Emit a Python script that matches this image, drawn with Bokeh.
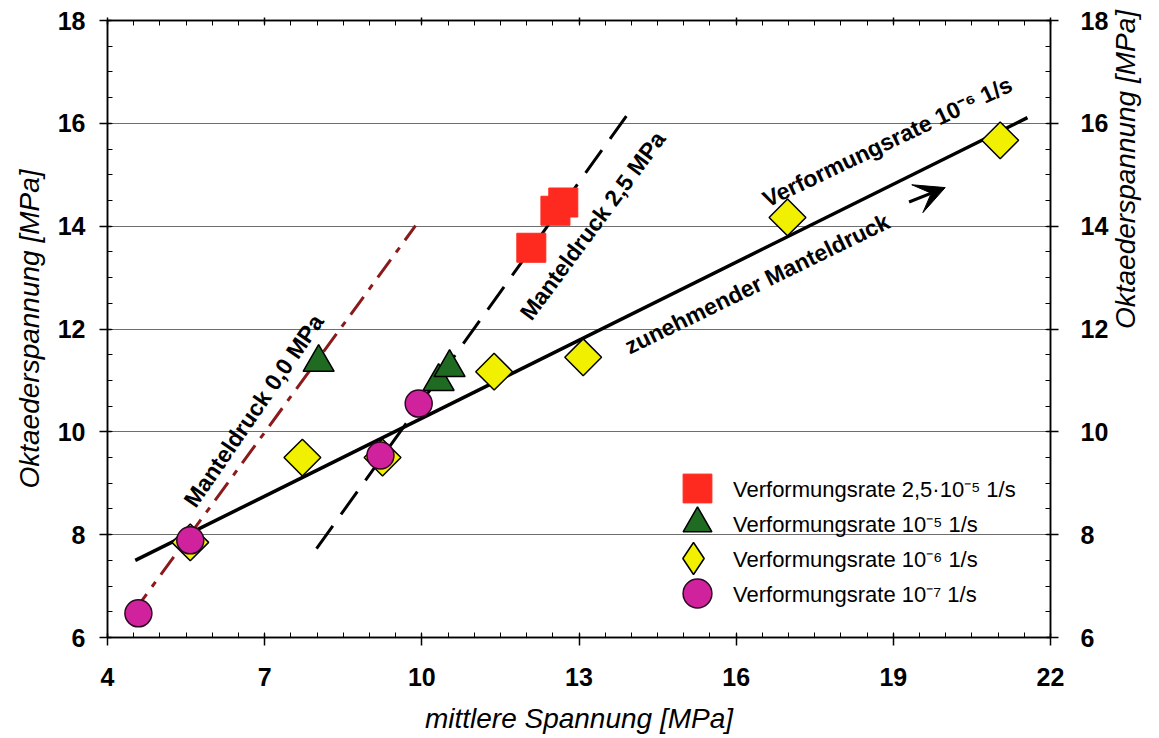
import math
import numpy as np
from bokeh.plotting import figure
from bokeh.models import (LinearAxis, FixedTicker, Legend, LegendItem,
                          Arrow, VeeHead)
from bokeh.core.properties import value
from bokeh.embed import file_html
from bokeh.resources import INLINE

# ---------------- data ----------------
x_ticks = [4, 7, 10, 13, 16, 19, 22]
y_ticks = [6, 8, 10, 12, 14, 16, 18]

rate_25e5_x = [12.09, 12.55, 12.70]
rate_25e5_y = [13.58, 14.30, 14.46]
rate_1e5_x = [8.03, 10.32, 10.53]
rate_1e5_y = [11.35, 10.98, 11.25]
rate_1e6_x = [5.58, 7.72, 9.25, 11.38, 13.08, 16.98, 21.04]
rate_1e6_y = [7.85, 9.50, 9.50, 11.17, 11.45, 14.17, 15.67]
rate_1e7_x = [4.59, 5.58, 9.21, 9.94]
rate_1e7_y = [6.47, 7.89, 9.54, 10.55]

trend_x = [4.53, 21.56]
trend_y = [7.50, 16.11]
md25_x = [7.99, 13.98]
md25_y = [7.73, 16.25]
md00_x = [4.50, 9.88]
md00_y = [6.50, 14.01]

legend_labels = ["Verformungsrate 2,5·10⁻⁵ 1/s", "Verformungsrate 10⁻⁵ 1/s",
                 "Verformungsrate 10⁻⁶ 1/s", "Verformungsrate 10⁻⁷ 1/s"]

ann_text = ["Manteldruck 0,0 MPa", "Manteldruck 2,5 MPa",
            "Verformungsrate 10⁻⁶  1/s", "zunehmender Manteldruck"]
ann_x = [6.79, 13.26, 18.94, 16.40]
ann_y = [10.41, 14.01, 15.67, 12.88]
ann_angle_deg = [55.5, 53.5, 25.5, 26.0]

arrow_start = (19.30, 14.47)
arrow_end = (19.99, 14.75)

FONT = "Liberation Sans"

p = figure(width=1159, height=736, x_range=(4, 22), y_range=(6, 18),
           output_backend="svg", toolbar_location=None,
           min_border_left=107, min_border_right=109, min_border_top=20,
           min_border_bottom=99,
           x_axis_label="mittlere Spannung [MPa]",
           y_axis_label="Oktaederspannung [MPa]")
p.background_fill_color = "white"
p.border_fill_color = "white"
p.outline_line_color = "black"
p.outline_line_width = 1.5

xt = FixedTicker(ticks=x_ticks, minor_ticks=list(np.arange(4, 22.01, 0.5)))
yt = FixedTicker(ticks=y_ticks, minor_ticks=list(np.arange(6, 18.01, 0.5)))


def style_axis(ax, ticker, show_labels=True):
    ax.ticker = ticker
    ax.axis_line_color = "black"
    ax.axis_line_width = 1.5
    ax.major_tick_line_color = "black"
    ax.major_tick_line_width = 1.5
    ax.major_tick_in = 4
    ax.major_tick_out = 8
    ax.minor_tick_line_color = "black"
    ax.minor_tick_line_width = 1
    ax.minor_tick_in = 5
    ax.minor_tick_out = 0
    ax.major_label_text_font = FONT
    ax.major_label_text_font_style = "bold"
    ax.major_label_text_color = "black"
    if show_labels:
        ax.major_label_text_font_size = "25px"
    else:
        ax.major_label_text_font_size = "1px"
        ax.major_label_text_alpha = 0
        ax.major_label_standoff = 0
        ax.major_tick_out = 3
    ax.axis_label_text_font = FONT
    ax.axis_label_text_font_style = "italic"
    ax.axis_label_text_font_size = "28px"
    ax.axis_label_text_color = "black"


style_axis(p.xaxis[0], xt)
p.xaxis[0].major_label_standoff = 22
p.xaxis[0].axis_label_standoff = 14
style_axis(p.yaxis[0], yt)
p.yaxis[0].major_label_standoff = 14
p.yaxis[0].axis_label_standoff = 10

right_ax = LinearAxis(axis_label="Oktaederspannung [MPa]")
style_axis(right_ax, yt)
right_ax.major_label_standoff = 22
right_ax.axis_label_standoff = 14
if "axis_label_orientation" in right_ax.properties():
    right_ax.axis_label_orientation = math.pi / 2
p.add_layout(right_ax, "right")

top_ax = LinearAxis()
style_axis(top_ax, xt, show_labels=False)
p.add_layout(top_ax, "above")

p.xgrid.visible = False
p.ygrid.ticker = yt
p.ygrid.grid_line_color = "#6e6e6e"
p.ygrid.grid_line_width = 1

# lines
p.line(md00_x, md00_y, line_width=3, color="#8b1a1a", line_dash="22 9 6 9")
p.line(md25_x, md25_y, line_width=3, color="black", line_dash="28 14")
p.line(trend_x, trend_y, line_width=3.5, color="black")

# markers
YELLOW = "#f0f000"
r_sq = p.scatter(rate_25e5_x, rate_25e5_y, marker="square", size=29,
                 fill_color="#ff2a1f", line_color="#ff2a1f")
r_tri = p.scatter(rate_1e5_x, rate_1e5_y, marker="triangle", size=31,
                  fill_color="#1f6b22", line_color="black", line_width=1.5)
r_dia = p.scatter(rate_1e6_x, rate_1e6_y, marker="square", size=26,
                  angle=math.pi / 4,
                  fill_color=YELLOW, line_color="black", line_width=1.5)
r_cir = p.scatter(rate_1e7_x, rate_1e7_y, marker="circle", size=27,
                  fill_color="#d0229c", line_color="#2a0a20", line_width=1.5)
# legend key for the diamonds (legend keys are drawn unrotated)
r_dia_key = p.scatter(rate_1e6_x, rate_1e6_y, marker="diamond", size=30,
                      fill_color=YELLOW, line_color="black", line_width=1.5,
                      visible=False)

# annotation texts
p.text(x=ann_x, y=ann_y, text=ann_text,
       angle=[math.radians(a) for a in ann_angle_deg],
       text_align="center", text_baseline="middle",
       text_font=value(FONT), text_font_style="bold", text_font_size="23px",
       text_color="black")

p.add_layout(Arrow(end=VeeHead(size=30, fill_color="black", line_color="black"),
                   x_start=arrow_start[0], y_start=arrow_start[1],
                   x_end=arrow_end[0], y_end=arrow_end[1],
                   line_width=3, line_color="black"))

# legend: one block per row so that the keys can be large and rows close
rows = [(legend_labels[0], r_sq, 72, (554, 113)),
        (legend_labels[1], r_tri, 72, (554, 78)),
        (legend_labels[2], r_dia_key, 80, (546, 39)),
        (legend_labels[3], r_cir, 72, (554, 8))]
for lab, rend, gsize, loc in rows:
    lg = Legend(items=[LegendItem(label=lab, renderers=[rend])],
                location=loc, glyph_width=gsize, glyph_height=gsize,
                spacing=0, label_standoff=0, padding=0, margin=0,
                background_fill_alpha=0, border_line_alpha=0,
                label_text_font=FONT, label_text_font_size="22px",
                label_text_color="black")
    p.add_layout(lg)

open("out.html", "w").write(file_html(p, INLINE))
